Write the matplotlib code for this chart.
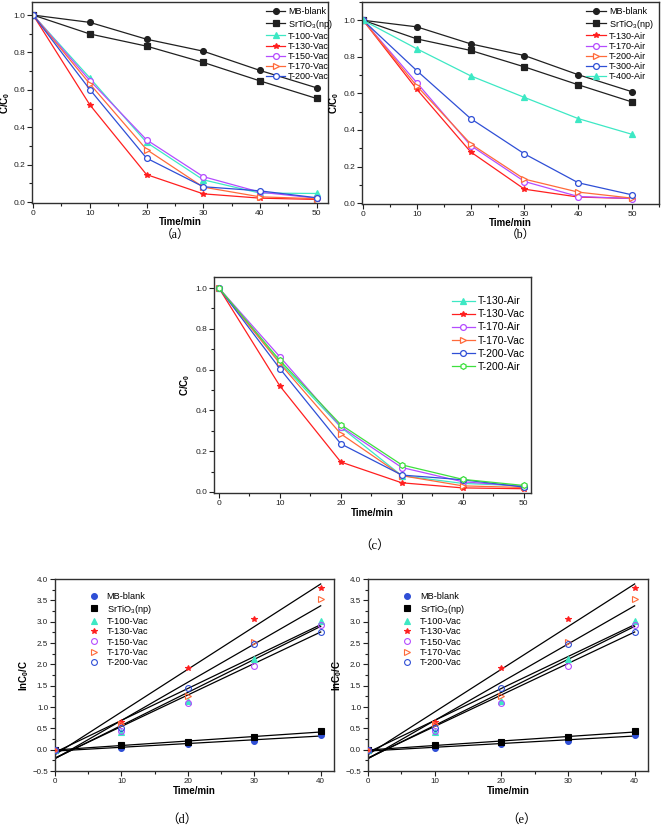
import numpy as np
import matplotlib
matplotlib.use("Agg")
import matplotlib.pyplot as plt
from matplotlib.ticker import MultipleLocator

plt.rcParams['font.family'] = ['Liberation Sans', 'DejaVu Sans']
plt.rcParams['mathtext.fontset'] = 'custom'
plt.rcParams['mathtext.rm'] = 'Liberation Sans'
plt.rcParams['mathtext.it'] = 'Liberation Sans'
plt.rcParams['mathtext.bf'] = 'Liberation Sans:bold'

# ---------------- data ----------------
time = [0, 10, 20, 30, 40, 50]

# panel (a)
a_mb = [1.0, 0.961, 0.871, 0.807, 0.704, 0.611]
a_sto = [1.0, 0.899, 0.834, 0.747, 0.648, 0.554]
a_t100 = [1.0, 0.664, 0.319, 0.119, 0.048, 0.046]
a_t130 = [1.0, 0.520, 0.147, 0.044, 0.021, 0.014]
a_t150 = [1.0, 0.650, 0.333, 0.136, 0.053, 0.021]
a_t170 = [1.0, 0.632, 0.281, 0.080, 0.028, 0.018]
a_t200 = [1.0, 0.602, 0.235, 0.082, 0.060, 0.023]

# panel (b)
b_mb = [1.0, 0.964, 0.871, 0.807, 0.702, 0.609]
b_sto = [1.0, 0.898, 0.835, 0.745, 0.647, 0.553]
b_t130 = [1.0, 0.622, 0.280, 0.076, 0.033, 0.025]
b_t170 = [1.0, 0.658, 0.315, 0.118, 0.036, 0.025]
b_t200 = [1.0, 0.640, 0.324, 0.131, 0.060, 0.027]
b_t300 = [1.0, 0.724, 0.462, 0.269, 0.111, 0.045]
b_t400 = [1.0, 0.844, 0.696, 0.578, 0.462, 0.376]

# panel (c)
c_t130air = [1.0, 0.636, 0.318, 0.080, 0.042, 0.030]
c_t130vac = [1.0, 0.520, 0.147, 0.045, 0.020, 0.016]
c_t170air = [1.0, 0.663, 0.320, 0.120, 0.050, 0.028]
c_t170vac = [1.0, 0.630, 0.285, 0.080, 0.030, 0.022]
c_t200vac = [1.0, 0.605, 0.236, 0.083, 0.060, 0.024]
c_t200air = [1.0, 0.645, 0.330, 0.133, 0.062, 0.032]

# panels (d),(e): ln(C0/C)
time_k = [0, 10, 20, 30, 40]
k_mb = [0.0, 0.03, 0.13, 0.21, 0.35]
k_sto = [0.0, 0.105, 0.18, 0.30, 0.43]
k_t100 = [0.0, 0.42, 1.15, 2.12, 3.02]
k_t130 = [0.0, 0.65, 1.91, 3.07, 3.79]
k_t150 = [0.0, 0.43, 1.09, 1.97, 2.92]
k_t170 = [0.0, 0.60, 1.26, 2.52, 3.52]
k_t200 = [0.0, 0.50, 1.44, 2.48, 2.75]

# ---------------- styles ----------------
CYAN = '#3de8c4'
RED = '#ff1f1f'
PURPLE = '#b44cff'
ORANGE = '#ff6a3a'
BLUE = '#2f4fd6'
GREEN = '#3ee03e'
BLACK = '#202020'

W, H = 661, 827
fig = plt.figure(figsize=(W / 100, H / 100), dpi=100)


def add_axes(l, r, t, b):
    return fig.add_axes([l / W, 1 - b / H, (r - l) / W, (b - t) / H])


def style(ax, xmaj, xmin, ymaj, ymin, fs=6.0):
    ax.xaxis.set_major_locator(MultipleLocator(xmaj))
    ax.xaxis.set_minor_locator(MultipleLocator(xmin))
    ax.yaxis.set_major_locator(MultipleLocator(ymaj))
    ax.yaxis.set_minor_locator(MultipleLocator(ymin))
    ax.tick_params(which='both', direction='out', top=False, right=False,
                   labelsize=fs, width=0.8, colors='#202020')
    ax.tick_params(which='major', length=3.5, pad=1.5)
    ax.tick_params(which='minor', length=2)
    for s in ax.spines.values():
        s.set_linewidth(1.0)
        s.set_color('#303030')


def line(ax, y, color, marker, label, mfc=None):
    ax.plot(time, y, color=color, lw=0.9, marker=marker, ms=4.2,
            mfc=color if mfc is None else mfc, mec=color, mew=0.9, label=label)


# ---------------- (a) ----------------
ax = add_axes(32, 328, 2, 203)
line(ax, a_mb, BLACK, 'o', 'MB-blank')
line(ax, a_sto, BLACK, 's', 'SrTiO$_3$(np)')
line(ax, a_t100, CYAN, '^', 'T-100-Vac')
line(ax, a_t130, RED, '*', 'T-130-Vac')
line(ax, a_t150, PURPLE, 'o', 'T-150-Vac', mfc='white')
line(ax, a_t170, ORANGE, '>', 'T-170-Vac', mfc='white')
line(ax, a_t200, BLUE, 'o', 'T-200-Vac', mfc='white')
ax.set_xlim(-0.2, 52)
ax.set_ylim(-0.005, 1.07)
style(ax, 10, 5, 0.2, 0.1)
ax.set_xlabel('Time/min', fontsize=7, fontweight='bold')
ax.xaxis.set_label_coords(0.5, -0.072)
ax.set_ylabel(r'$\mathbf{C/C_0}$', fontsize=7)
ax.yaxis.set_label_coords(-0.066, 0.5)
ax.legend(loc='upper right', bbox_to_anchor=(1.035, 1.0), frameon=False,
          fontsize=6.5, handlelength=2.2, handletextpad=0.3, labelspacing=0.12,
          borderaxespad=0.2)

# ---------------- (b) ----------------
ax = add_axes(362, 659, 2, 204)
line(ax, b_mb, BLACK, 'o', 'MB-blank')
line(ax, b_sto, BLACK, 's', 'SrTiO$_3$(np)')
line(ax, b_t130, RED, '*', 'T-130-Air')
line(ax, b_t170, PURPLE, 'o', 'T-170-Air', mfc='white')
line(ax, b_t200, ORANGE, '>', 'T-200-Air', mfc='white')
line(ax, b_t300, BLUE, 'o', 'T-300-Air', mfc='white')
line(ax, b_t400, CYAN, '^', 'T-400-Air')
ax.set_xlim(-0.2, 55)
ax.set_ylim(-0.005, 1.1)
style(ax, 10, 5, 0.2, 0.1)
ax.set_xlabel('Time/min', fontsize=7, fontweight='bold')
ax.xaxis.set_label_coords(0.5, -0.068)
ax.set_ylabel(r'$\mathbf{C/C_0}$', fontsize=7)
ax.yaxis.set_label_coords(-0.072, 0.5)
ax.legend(loc='upper right', bbox_to_anchor=(1.0, 1.0), frameon=False,
          fontsize=6.5, handlelength=2.2, handletextpad=0.3, labelspacing=0.12,
          borderaxespad=0.2)

# ---------------- (c) ----------------
ax = add_axes(214, 531, 277, 493)
line(ax, c_t130air, CYAN, '^', 'T-130-Air')
line(ax, c_t130vac, RED, '*', 'T-130-Vac')
line(ax, c_t170air, PURPLE, 'o', 'T-170-Air', mfc='white')
line(ax, c_t170vac, ORANGE, '>', 'T-170-Vac', mfc='white')
line(ax, c_t200vac, BLUE, 'o', 'T-200-Vac', mfc='white')
line(ax, c_t200air, GREEN, 'h', 'T-200-Air', mfc='white')
ax.set_xlim(-0.8, 51.2)
ax.set_ylim(-0.005, 1.054)
style(ax, 10, 5, 0.2, 0.1)
ax.set_xlabel('Time/min', fontsize=7, fontweight='bold', labelpad=1)
ax.set_ylabel(r'$\mathbf{C/C_0}$', fontsize=7, labelpad=2)
ax.legend(loc='upper right', bbox_to_anchor=(1.0, 0.94), frameon=False,
          fontsize=7.5, handlelength=2.2, handletextpad=0.3, labelspacing=0.3,
          borderaxespad=0.2)


# ---------------- (d),(e) ----------------
def kinetics(l, r, t, b):
    ax = add_axes(l, r, t, b)
    series = [
        (k_mb, BLUE, 'o', 'MB-blank', BLUE),
        (k_sto, 'black', 's', 'SrTiO$_3$(np)', 'black'),
        (k_t100, CYAN, '^', 'T-100-Vac', CYAN),
        (k_t130, RED, '*', 'T-130-Vac', RED),
        (k_t150, PURPLE, 'o', 'T-150-Vac', 'none'),
        (k_t170, ORANGE, '>', 'T-170-Vac', 'none'),
        (k_t200, BLUE, 'o', 'T-200-Vac', 'none'),
    ]
    xs = np.array(time_k, dtype=float)
    for ys, col, mk, lab, fc in series:
        ax.plot(xs, ys, ls='none', marker=mk, ms=4.2, mfc=fc, mec=col,
                mew=0.8, label=lab, zorder=3)
        p = np.polyfit(xs, ys, 1)
        ax.plot(xs[[0, -1]], np.polyval(p, xs[[0, -1]]), color='black',
                lw=0.9, zorder=2)
    ax.set_xlim(0, 42)
    ax.set_ylim(-0.5, 4.0)
    style(ax, 10, 5, 0.5, 0.25, fs=5.8)
    ax.set_xlabel('Time/min', fontsize=7, fontweight='bold', labelpad=1)
    ax.set_ylabel(r'$\mathbf{lnC_0/C}$', fontsize=7, labelpad=1)
    ax.legend(loc='upper left', bbox_to_anchor=(0.1, 0.96), frameon=False,
              fontsize=6.6, handlelength=1.2, handletextpad=0.8,
              labelspacing=0.15, borderaxespad=0.2)
    return ax


kinetics(55, 334, 579, 771)
kinetics(368, 648, 579, 771)

# ---------------- captions ----------------
cap_font = ['Liberation Serif', 'Noto Sans CJK SC']
for lab, x, y, fs in [('（a）', 175, 235, 8.5), ('（b）', 520, 235, 8.5),
                      ('（c）', 375, 546, 9), ('（d）', 182, 820, 9),
                      ('（e）', 522, 820, 9)]:
    fig.text(x / W, 1 - y / H, lab, ha='center', va='center', fontsize=fs,
             family=cap_font)

fig.savefig('out.png', dpi=100)
